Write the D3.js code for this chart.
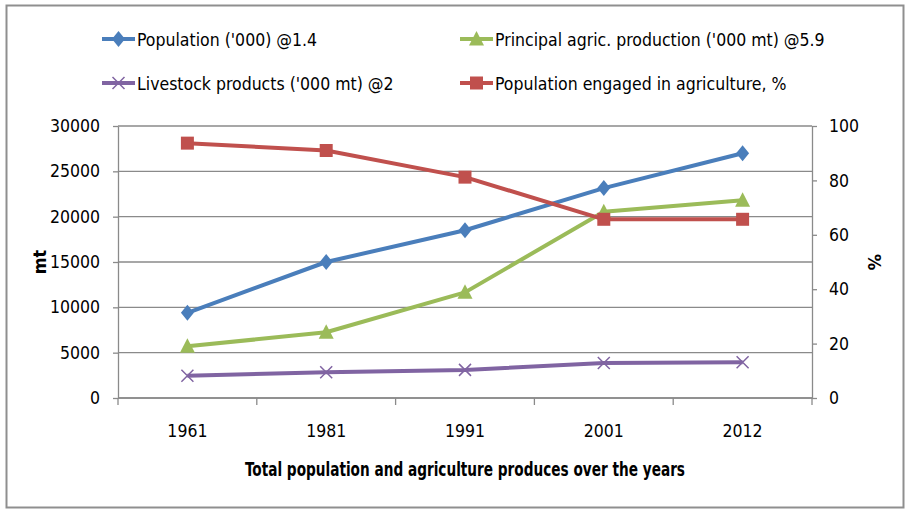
<!DOCTYPE html>
<html>
<head>
<meta charset="utf-8">
<script src="https://cdn.jsdelivr.net/npm/d3@7"></script>
<style>
  body { margin: 0; background: #fff; }
  svg text { font-family: 'Liberation Sans Narrow', 'DejaVu Sans Condensed', 'Arial Narrow', sans-serif; fill: #000; }
</style>
</head>
<body>
<div id="chart"></div>
<script>
const years = ['1961', '1981', '1991', '2001', '2012'];
const population = [9400, 15000, 18500, 23150, 27000];
const agricProduction = [5700, 7250, 11650, 20550, 21800];
const livestock = [2450, 2850, 3100, 3850, 3950];
const engagedPct = [93.7, 91, 81.2, 65.7, 65.7];
const leftTicks = [0, 5000, 10000, 15000, 20000, 25000, 30000];
const rightTicks = [0, 20, 40, 60, 80, 100];

const series = [
  { name: "Population ('000) @1.4", values: population, color: '#4A7EBB', marker: 'diamond', axis: 'left', col: 0, row: 0 },
  { name: "Principal agric. production ('000 mt) @5.9", values: agricProduction, color: '#9BBB59', marker: 'triangle', axis: 'left', col: 1, row: 0 },
  { name: "Livestock products ('000 mt) @2", values: livestock, color: '#8064A2', marker: 'cross', axis: 'left', col: 0, row: 1 },
  { name: 'Population engaged in agriculture, %', values: engagedPct, color: '#C0504D', marker: 'square', axis: 'right', col: 1, row: 1 },
];

const width = 907;
const height = 510;
const plot = { left: 118, right: 812, top: 126, bottom: 398 };

const svg = d3.select('#chart').append('svg')
  .attr('width', width)
  .attr('height', height);

// outer frame
svg.append('rect')
  .attr('x', 6.5).attr('y', 5.5)
  .attr('width', 897).attr('height', 502)
  .attr('fill', '#fff')
  .attr('stroke', '#8f8f8f')
  .attr('stroke-width', 2);

const x = d3.scaleBand()
  .domain(years)
  .range([plot.left, plot.right]);

const yLeft = d3.scaleLinear()
  .domain([0, 30000])
  .range([plot.bottom, plot.top]);

const yRight = d3.scaleLinear()
  .domain([0, 100])
  .range([plot.bottom, plot.top]);

// gridlines
svg.append('g')
  .attr('class', 'grid')
  .selectAll('line')
  .data(leftTicks)
  .enter()
  .append('line')
  .attr('x1', plot.left)
  .attr('x2', plot.right)
  .attr('y1', d => yLeft(d))
  .attr('y2', d => yLeft(d))
  .attr('stroke', '#8a8a8a')
  .attr('stroke-width', 1.3);

const yAxisLeft = d3.axisLeft(yLeft)
  .tickValues(leftTicks)
  .tickFormat(d3.format('d'))
  .tickSize(5)
  .tickPadding(13)
  .tickSizeOuter(0);

const gl = svg.append('g')
  .attr('class', 'y axis')
  .attr('transform', `translate(${plot.left},0)`)
  .call(yAxisLeft);

const yAxisRight = d3.axisRight(yRight)
  .tickValues(rightTicks)
  .tickSize(5)
  .tickPadding(12)
  .tickSizeOuter(0);

const gr = svg.append('g')
  .attr('class', 'y2 axis')
  .attr('transform', `translate(${plot.right},0)`)
  .call(yAxisRight);

const xAxis = d3.axisBottom(x)
  .tickSize(0)
  .tickPadding(27)
  .tickSizeOuter(0);

const gx = svg.append('g')
  .attr('class', 'x axis')
  .attr('transform', `translate(0,${plot.bottom})`)
  .call(xAxis);

// category boundary ticks
gx.selectAll('line.bound')
  .data(d3.range(years.length + 1))
  .enter()
  .append('line')
  .attr('class', 'bound')
  .attr('x1', i => plot.left + i * x.step())
  .attr('x2', i => plot.left + i * x.step())
  .attr('y1', 0)
  .attr('y2', 7)
  .attr('stroke', '#8a8a8a')
  .attr('stroke-width', 1.3);

[gl, gr, gx].forEach(g => {
  g.selectAll('.domain').attr('stroke', '#8a8a8a').attr('stroke-width', 1.3);
  g.selectAll('.tick line').attr('stroke', '#8a8a8a').attr('stroke-width', 1.3);
  g.selectAll('.tick text').style('font-size', '17.5px').attr('fill', '#000');
});
gx.select('.domain').attr('d', `M${plot.left},0H${plot.right}`);

// axis titles
svg.append('text')
  .attr('transform', `translate(46,262) rotate(-90)`)
  .attr('text-anchor', 'middle')
  .style('font-size', '18px')
  .style('font-weight', 'bold')
  .text('mt');

svg.append('text')
  .attr('transform', `translate(868,262) rotate(90)`)
  .attr('text-anchor', 'middle')
  .style('font-size', '18px')
  .style('font-weight', 'bold')
  .text('%');

svg.append('text')
  .attr('x', (plot.left + plot.right) / 2)
  .attr('y', 476)
  .attr('text-anchor', 'middle')
  .attr('textLength', 440)
  .attr('lengthAdjust', 'spacingAndGlyphs')
  .style('font-size', '19.5px')
  .style('font-weight', 'bold')
  .text('Total population and agriculture produces over the years');

function markerPath(type) {
  if (type === 'diamond') return 'M0,-8L6.5,0L0,8L-6.5,0Z';
  if (type === 'square') return 'M-6.5,-6.5H6.5V6.5H-6.5Z';
  if (type === 'triangle') return 'M0,-8L7.5,6.5H-7.5Z';
  return 'M-6,-6L6,6M6,-6L-6,6';
}

function drawMarker(g, type, color) {
  const p = g.append('path').attr('d', markerPath(type));
  if (type === 'cross') {
    p.attr('fill', 'none').attr('stroke', color).attr('stroke-width', 1.5);
  } else {
    p.attr('fill', color);
  }
}

// lines
series.forEach(s => {
  const y = s.axis === 'left' ? yLeft : yRight;
  const line = d3.line()
    .x((d, i) => x(years[i]) + x.bandwidth() / 2)
    .y(d => y(d));
  const g = svg.append('g').attr('class', 'series');
  g.append('path')
    .attr('d', line(s.values))
    .attr('fill', 'none')
    .attr('stroke', s.color)
    .attr('stroke-width', 4)
    .attr('stroke-linejoin', 'round');
  s.values.forEach((v, i) => {
    const m = g.append('g')
      .attr('transform', `translate(${x(years[i]) + x.bandwidth() / 2},${y(v)})`);
    drawMarker(m, s.marker, s.color);
  });
});

// legend
const legendCols = [102, 460];
const legendRows = [39, 83];
series.forEach(s => {
  const lx = legendCols[s.col];
  const ly = legendRows[s.row];
  const g = svg.append('g')
    .attr('class', 'legend')
    .attr('transform', `translate(${lx},${ly})`);
  g.append('line')
    .attr('x1', 0).attr('x2', 33)
    .attr('stroke', s.color)
    .attr('stroke-width', 4);
  const m = g.append('g').attr('transform', 'translate(16.5,0)');
  drawMarker(m, s.marker, s.color);
  g.append('text')
    .attr('x', 35)
    .attr('y', 7)
    .style('font-size', '17.5px')
    .text(s.name);
});
</script>
</body>
</html>
